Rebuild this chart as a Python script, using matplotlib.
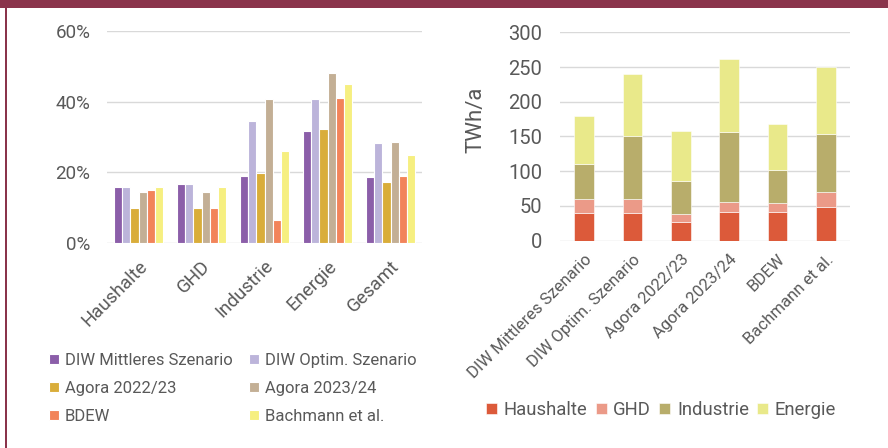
import matplotlib
matplotlib.use('Agg')
import matplotlib.pyplot as plt
import numpy as np
from matplotlib.patches import Rectangle

plt.rcParams['font.family'] = ['Roboto', 'DejaVu Sans']

# ── Data ──────────────────────────────────────────────────────────────────────
sectors = ['Haushalte', 'GHD', 'Industrie', 'Energie', 'Gesamt']
studies = ['DIW Mittleres Szenario', 'DIW Optim. Szenario', 'Agora 2022/23',
           'Agora 2023/24', 'BDEW', 'Bachmann et al.']

# share per sector (fraction), one list per study
share_diw_mid = [0.159, 0.168, 0.191, 0.317, 0.187]
share_diw_opt = [0.159, 0.168, 0.345, 0.408, 0.282]
share_agora22 = [0.100, 0.100, 0.199, 0.323, 0.173]
share_agora23 = [0.145, 0.145, 0.407, 0.480, 0.286]
share_bdew    = [0.151, 0.100, 0.066, 0.411, 0.191]
share_bach    = [0.159, 0.159, 0.259, 0.449, 0.250]

# TWh/a per study, one list per sector
twh_haushalte = [40, 40, 27, 41, 42, 49]
twh_ghd       = [20, 20, 11, 15, 12, 21]
twh_industrie = [50, 90, 48, 100, 48, 83]
twh_energie   = [70, 90, 72, 105, 66, 97]
stack_labels = ['Haushalte', 'GHD', 'Industrie', 'Energie']

STUDY_COLORS = ['#8b5ea9', '#bcb4da', '#d9ad3a', '#c3af95', '#f2845a', '#f6ef80']
STACK_COLORS = ['#dc5a3a', '#eb9a88', '#b8ad6b', '#e9e98a']
TXT = '#595959'
GRID = '#d9d9d9'

fig = plt.figure(figsize=(8.88, 4.48), dpi=100)
fig.patch.set_facecolor('white')

# maroon frame (top band + left rule)
fig.add_artist(Rectangle((0, 1 - 8 / 448), 1, 8 / 448, transform=fig.transFigure,
                         facecolor='#8a344b', edgecolor='none'))
fig.add_artist(Rectangle((5 / 888, 0), 2 / 888, 1, transform=fig.transFigure,
                         facecolor='#8a344b', edgecolor='none'))


def style_axes(ax):
    for s in ax.spines.values():
        s.set_visible(False)
    ax.yaxis.grid(True, color=GRID, lw=1.0)
    ax.set_axisbelow(True)
    ax.tick_params(axis='both', length=0, colors=TXT)


# ── Left: shares ──────────────────────────────────────────────────────────────
ax1 = fig.add_axes([107 / 888, 1 - 243 / 448, 315 / 888, 212 / 448])
style_axes(ax1)
shares = [share_diw_mid, share_diw_opt, share_agora22, share_agora23, share_bdew, share_bach]
x = np.arange(len(sectors))
bw = 0.78 / len(studies)
handles1 = []
for i, (vals, col) in enumerate(zip(shares, STUDY_COLORS)):
    off = (i - (len(studies) - 1) / 2) * bw
    b = ax1.bar(x + off, vals, bw, color=col, edgecolor='white', lw=0.8,
                label=studies[i])
    handles1.append(b)
ax1.set_xlim(-0.5, len(sectors) - 0.5)
ax1.set_ylim(0, 0.6)
ax1.set_yticks([0, 0.2, 0.4, 0.6])
ax1.set_yticklabels(['0%', '20%', '40%', '60%'], fontsize=13.5)
ax1.set_xticks(x)
ax1.set_xticklabels(sectors, fontsize=13.5, rotation=45, ha='right',
                    rotation_mode='anchor')
ax1.tick_params(axis='x', pad=10)
ax1.tick_params(axis='y', pad=12)

order = [0, 2, 4, 1, 3, 5]
fig.legend([handles1[k] for k in order], [studies[k] for k in order],
           loc='upper left', bbox_to_anchor=(49 / 888, 1 - 353 / 448),
           ncol=2, frameon=False, fontsize=12, handlelength=0.6,
           handleheight=0.6, handletextpad=0.35, columnspacing=1.0,
           labelspacing=0.78, borderpad=0, borderaxespad=0,
           labelcolor=TXT)

# ── Right: TWh/a stacked ──────────────────────────────────────────────────────
ax2 = fig.add_axes([560 / 888, 1 - 240.7 / 448, 290 / 888, 208.4 / 448])
style_axes(ax2)
stacks = [twh_haushalte, twh_ghd, twh_industrie, twh_energie]
x2 = np.arange(len(studies))
bottom = np.zeros(len(studies))
for vals, col, lab in zip(stacks, STACK_COLORS, stack_labels):
    ax2.bar(x2, vals, 0.41, bottom=bottom, color=col, edgecolor='white',
            lw=0.4, label=lab)
    bottom += np.array(vals)
ax2.set_xlim(-0.5, len(studies) - 0.5)
ax2.set_ylim(0, 300)
ax2.set_yticks(range(0, 301, 50))
ax2.tick_params(axis='y', labelsize=14.5, pad=13)
ax2.set_xticks(x2)
ax2.set_xticklabels(studies, fontsize=12, rotation=45, ha='right',
                    rotation_mode='anchor')
ax2.tick_params(axis='x', pad=8)
ax2.set_ylabel('TWh/a', fontsize=16, color=TXT)
ax2.yaxis.set_label_coords(-0.252, 0.58)

ax2.legend(loc='center left', bbox_to_anchor=(486 / 888, 1 - 410 / 448),
           bbox_transform=fig.transFigure, ncol=4, frameon=False, fontsize=13.3,
           handlelength=0.6, handleheight=0.6, handletextpad=0.35,
           columnspacing=0.45, borderpad=0, borderaxespad=0, labelcolor=TXT)

plt.savefig('out.png', dpi=100, facecolor=fig.get_facecolor())
